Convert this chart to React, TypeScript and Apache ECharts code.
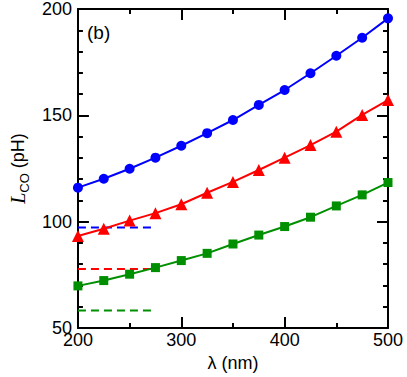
import React, { useEffect, useRef } from "react";
import * as echarts from "echarts";

const lambda = [200, 225, 250, 275, 300, 325, 350, 375, 400, 425, 450, 475, 500];
const blueVals = [116.0, 120.2, 124.9, 130.1, 135.7, 141.6, 147.8, 154.9, 161.9, 169.8, 178.0, 186.5, 195.6];
const redVals = [93.3, 96.7, 100.5, 104.0, 108.2, 113.6, 118.7, 124.3, 130.1, 136.0, 142.3, 150.2, 157.2];
const greenVals = [69.8, 72.3, 75.3, 78.4, 81.7, 85.1, 89.5, 93.7, 97.7, 102.1, 107.4, 112.6, 118.4];
const dashX = [200, 275];
const blueRef = 97.2;
const redRef = 77.8;
const greenRef = 58.2;

const BLUE = "#0000ff";
const RED = "#ff0000";
const GREEN = "#008f00";
const FONT = "Liberation Sans, Arial, sans-serif";

export default function App() {
  const ref = useRef<HTMLDivElement>(null);
  useEffect(() => {
    if (!ref.current) return;
    const chart = echarts.init(ref.current, null, { renderer: "svg" });
    const pts = (vals: number[]) => lambda.map((x, i) => [x, vals[i]]);
    const dash = (v: number) => dashX.map((x) => [x, v]);
    const axisCommon = {
      axisLine: { show: true, onZero: false, lineStyle: { color: "#000", width: 2 } },
      axisTick: { show: true, inside: true, length: 11, lineStyle: { color: "#000", width: 2 } },
      minorTick: { show: true, length: 5, lineStyle: { color: "#000", width: 2 } },
      splitLine: { show: false },
    };
    const xBase = { type: "value", min: 200, max: 500, interval: 100, minorTick: { show: true, splitNumber: 2, length: 5, lineStyle: { color: "#000", width: 2 } } };
    const yBase = { type: "value", min: 50, max: 200, interval: 50, minorTick: { show: true, splitNumber: 5, length: 5, lineStyle: { color: "#000", width: 2 } } };
    chart.setOption({
      animation: false,
      grid: { left: 69.5, right: 19, top: 9, bottom: 49, containLabel: false },
      xAxis: [
        {
          ...axisCommon,
          ...xBase,
          position: "bottom",
          axisLabel: { color: "#000", fontSize: 18, fontFamily: FONT, margin: 3 },
          name: "λ (nm)",
          nameLocation: "middle",
          nameGap: 26,
          nameTextStyle: { color: "#000", fontSize: 18, fontFamily: FONT },
        },
        {
          ...axisCommon,
          ...xBase,
          position: "top",
          axisLabel: { show: false },
        },
      ],
      yAxis: [
        {
          ...axisCommon,
          ...yBase,
          position: "left",
          axisLabel: { color: "#000", fontSize: 18, fontFamily: FONT, margin: 6 },
          name: "{i|L}{s|CO}{n| (pH)}",
          nameLocation: "middle",
          nameGap: 46,
          nameRotate: 90,
          nameTextStyle: {
            color: "#000",
            fontSize: 18,
            fontFamily: FONT,
            rich: {
              i: { fontStyle: "italic", fontFamily: "Liberation Serif, Times New Roman, serif", fontSize: 20, color: "#000", lineHeight: 26, verticalAlign: "middle" },
              s: { fontSize: 13, fontFamily: FONT, color: "#000", lineHeight: 26, verticalAlign: "bottom" },
              n: { fontSize: 18, fontFamily: FONT, color: "#000", lineHeight: 26, verticalAlign: "middle" },
            },
          },
        },
        {
          ...axisCommon,
          ...yBase,
          position: "right",
          axisLabel: { show: false },
        },
      ],
      graphic: [
        {
          type: "text",
          left: 87,
          top: 23,
          style: { text: "(b)", fontSize: 19, fontFamily: FONT, fill: "#000" },
        },
      ],
      series: [
        { type: "line", data: dash(blueRef), symbol: "none", lineStyle: { color: BLUE, width: 2, type: [8, 5] }, z: 1 },
        { type: "line", data: dash(redRef), symbol: "none", lineStyle: { color: RED, width: 2, type: [8, 5] }, z: 1 },
        { type: "line", data: dash(greenRef), symbol: "none", lineStyle: { color: GREEN, width: 2, type: [8, 5] }, z: 1 },
        { type: "line", data: pts(blueVals), symbol: "circle", symbolSize: 10, lineStyle: { color: BLUE, width: 2 }, itemStyle: { color: BLUE }, z: 3 },
        { type: "line", data: pts(redVals), symbol: "triangle", symbolSize: 12, lineStyle: { color: RED, width: 2 }, itemStyle: { color: RED }, z: 3 },
        { type: "line", data: pts(greenVals), symbol: "rect", symbolSize: 9, lineStyle: { color: GREEN, width: 2 }, itemStyle: { color: GREEN }, z: 3 },
      ],
    });
    return () => chart.dispose();
  }, []);
  return <div ref={ref} style={{ width: 407, height: 377, position: "absolute", left: 0, top: 0 }} />;
}
